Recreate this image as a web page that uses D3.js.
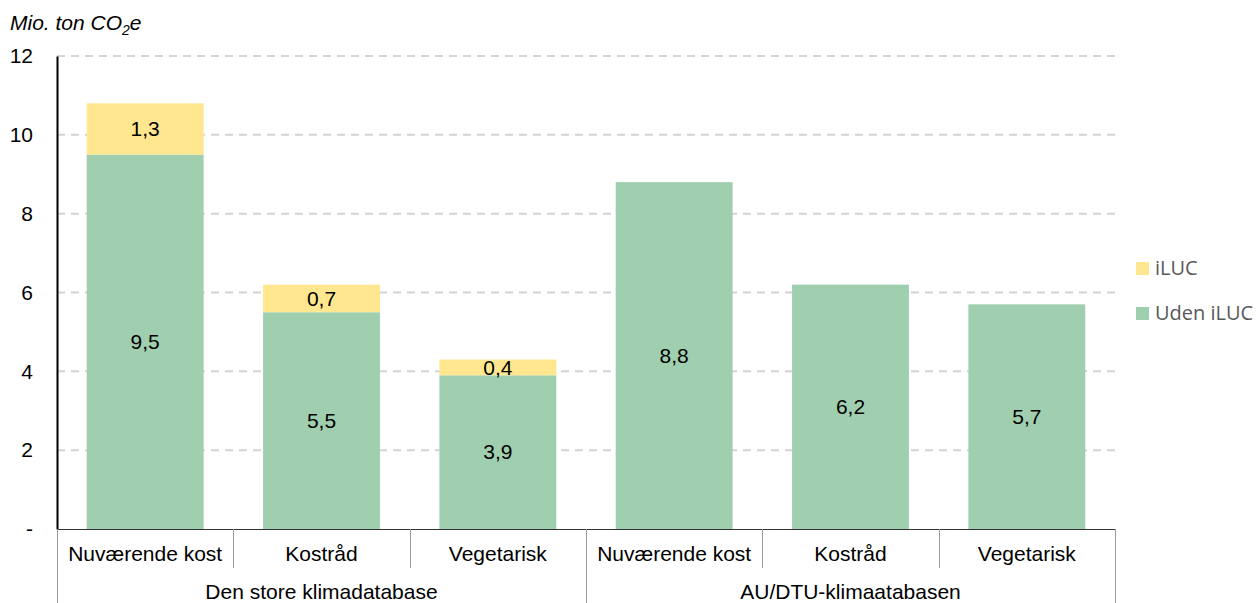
<!DOCTYPE html>
<html><head><meta charset="utf-8">
<script src="https://cdn.jsdelivr.net/npm/d3@7"></script>
<style>body{margin:0;background:#fff;}svg{display:block;}</style>
</head><body>
<svg id="c" width="1256" height="603"></svg>
<script>
const categories = ["Nuværende kost","Kostråd","Vegetarisk","Nuværende kost","Kostråd","Vegetarisk"];
const groups = ["Den store klimadatabase","AU/DTU-klimaatabasen"];
const udenILUC = [9.5,5.5,3.9,8.8,6.2,5.7];
const iLUC = [1.3,0.7,0.4,0,0,0];
const yTicks = [0,2,4,6,8,10,12];
const yTickLabels = ["-","2","4","6","8","10","12"];
const seriesNames = ["iLUC","Uden iLUC"];
const colors = {"iLUC":"#ffe78f","Uden iLUC":"#a0cfb0"};

const svg = d3.select("#c");
const L = 57, R = 1115, T = 56, B = 529;
const y = d3.scaleLinear().domain([0,12]).range([B,T]);
const x = d3.scaleBand().domain(d3.range(categories.length)).range([L,R]).paddingInner(0).paddingOuter(0);
const step = x.bandwidth();
const bw = step*0.663;
const font = "Liberation Sans, Arial, sans-serif";
const fs = 21;

// gridlines
svg.append("g").selectAll("line").data(yTicks.filter(d=>d>0)).join("line")
  .attr("x1",L).attr("x2",R).attr("y1",d=>y(d)).attr("y2",d=>y(d))
  .attr("stroke","#d4d4d4").attr("stroke-width",2).attr("stroke-dasharray","8,6");

// bars
const data = categories.map((c,i)=>({i, u:udenILUC[i], l:iLUC[i]}));
const g = svg.append("g");
g.selectAll("rect.u").data(data).join("rect")
  .attr("x",d=>x(d.i)+(step-bw)/2).attr("width",bw)
  .attr("y",d=>y(d.u)).attr("height",d=>y(0)-y(d.u)).attr("fill",colors["Uden iLUC"]);
g.selectAll("rect.l").data(data.filter(d=>d.l>0)).join("rect")
  .attr("x",d=>x(d.i)+(step-bw)/2).attr("width",bw)
  .attr("y",d=>y(d.u+d.l)).attr("height",d=>y(d.u)-y(d.u+d.l)).attr("fill",colors["iLUC"]);

const fmt = v => d3.format(".1f")(v).replace(".",",");
g.selectAll("text.u").data(data).join("text")
  .attr("x",d=>x(d.i)+step/2).attr("y",d=>y(d.u/2)).attr("dy","0.35em")
  .attr("text-anchor","middle").attr("font-family",font).attr("font-size",fs).attr("fill","#000")
  .text(d=>fmt(d.u));
g.selectAll("text.l").data(data.filter(d=>d.l>0)).join("text")
  .attr("x",d=>x(d.i)+step/2).attr("y",d=>y(d.u+d.l/2)).attr("dy","0.35em")
  .attr("text-anchor","middle").attr("font-family",font).attr("font-size",fs).attr("fill","#000")
  .text(d=>fmt(d.l));

// y axis
const yAxis = d3.axisLeft(y).tickValues(yTicks).tickSize(0).tickPadding(24)
  .tickFormat((d,i)=>yTickLabels[i]);
const ya = svg.append("g").attr("transform",`translate(${L},0)`).call(yAxis);
ya.select(".domain").attr("stroke","#000").attr("stroke-width",2);
ya.selectAll("text").attr("font-family",font).attr("font-size",fs).attr("fill","#000");

// x axis line
svg.append("line").attr("x1",L).attr("x2",R).attr("y1",B+0.5).attr("y2",B+0.5).attr("stroke","#333").attr("stroke-width",1);

// category separators
const seps = d3.range(categories.length+1);
svg.append("g").selectAll("line").data(seps).join("line")
  .attr("x1",i=>Math.round(L+i*step)+0.5).attr("x2",i=>Math.round(L+i*step)+0.5)
  .attr("y1",B).attr("y2",i=>(i%3===0)?603:568)
  .attr("stroke","#9a9a9a").attr("stroke-width",1);

svg.append("g").selectAll("text").data(categories).join("text")
  .attr("x",(d,i)=>x(i)+step/2).attr("y",554).attr("dy","0.35em")
  .attr("text-anchor","middle").attr("font-family",font).attr("font-size",fs).attr("fill","#000")
  .text(d=>d);
svg.append("g").selectAll("text").data(groups).join("text")
  .attr("x",(d,i)=>x(i*3)+step*1.5).attr("y",592).attr("dy","0.35em")
  .attr("text-anchor","middle").attr("font-family",font).attr("font-size",fs).attr("fill","#000")
  .text(d=>d);

// title
const t = svg.append("text").attr("x",10).attr("y",30).attr("font-family",font).attr("font-size",fs)
  .attr("font-style","italic").attr("fill","#000");
t.append("tspan").text("Mio. ton CO");
t.append("tspan").attr("font-size",14).attr("dy",5).text("2");
t.append("tspan").attr("dy",-5).text("e");

// legend
const leg = svg.append("g");
seriesNames.forEach((s,i)=>{
  const yy = 268 + i*45;
  leg.append("rect").attr("x",1136).attr("y",yy-6).attr("width",13).attr("height",13).attr("fill",colors[s]);
  leg.append("text").attr("x",1155).attr("y",yy).attr("dy","0.35em")
    .attr("font-family","Open Sans, sans-serif").attr("font-size",20).attr("fill","#595959").text(s);
});
</script>
</body></html>
